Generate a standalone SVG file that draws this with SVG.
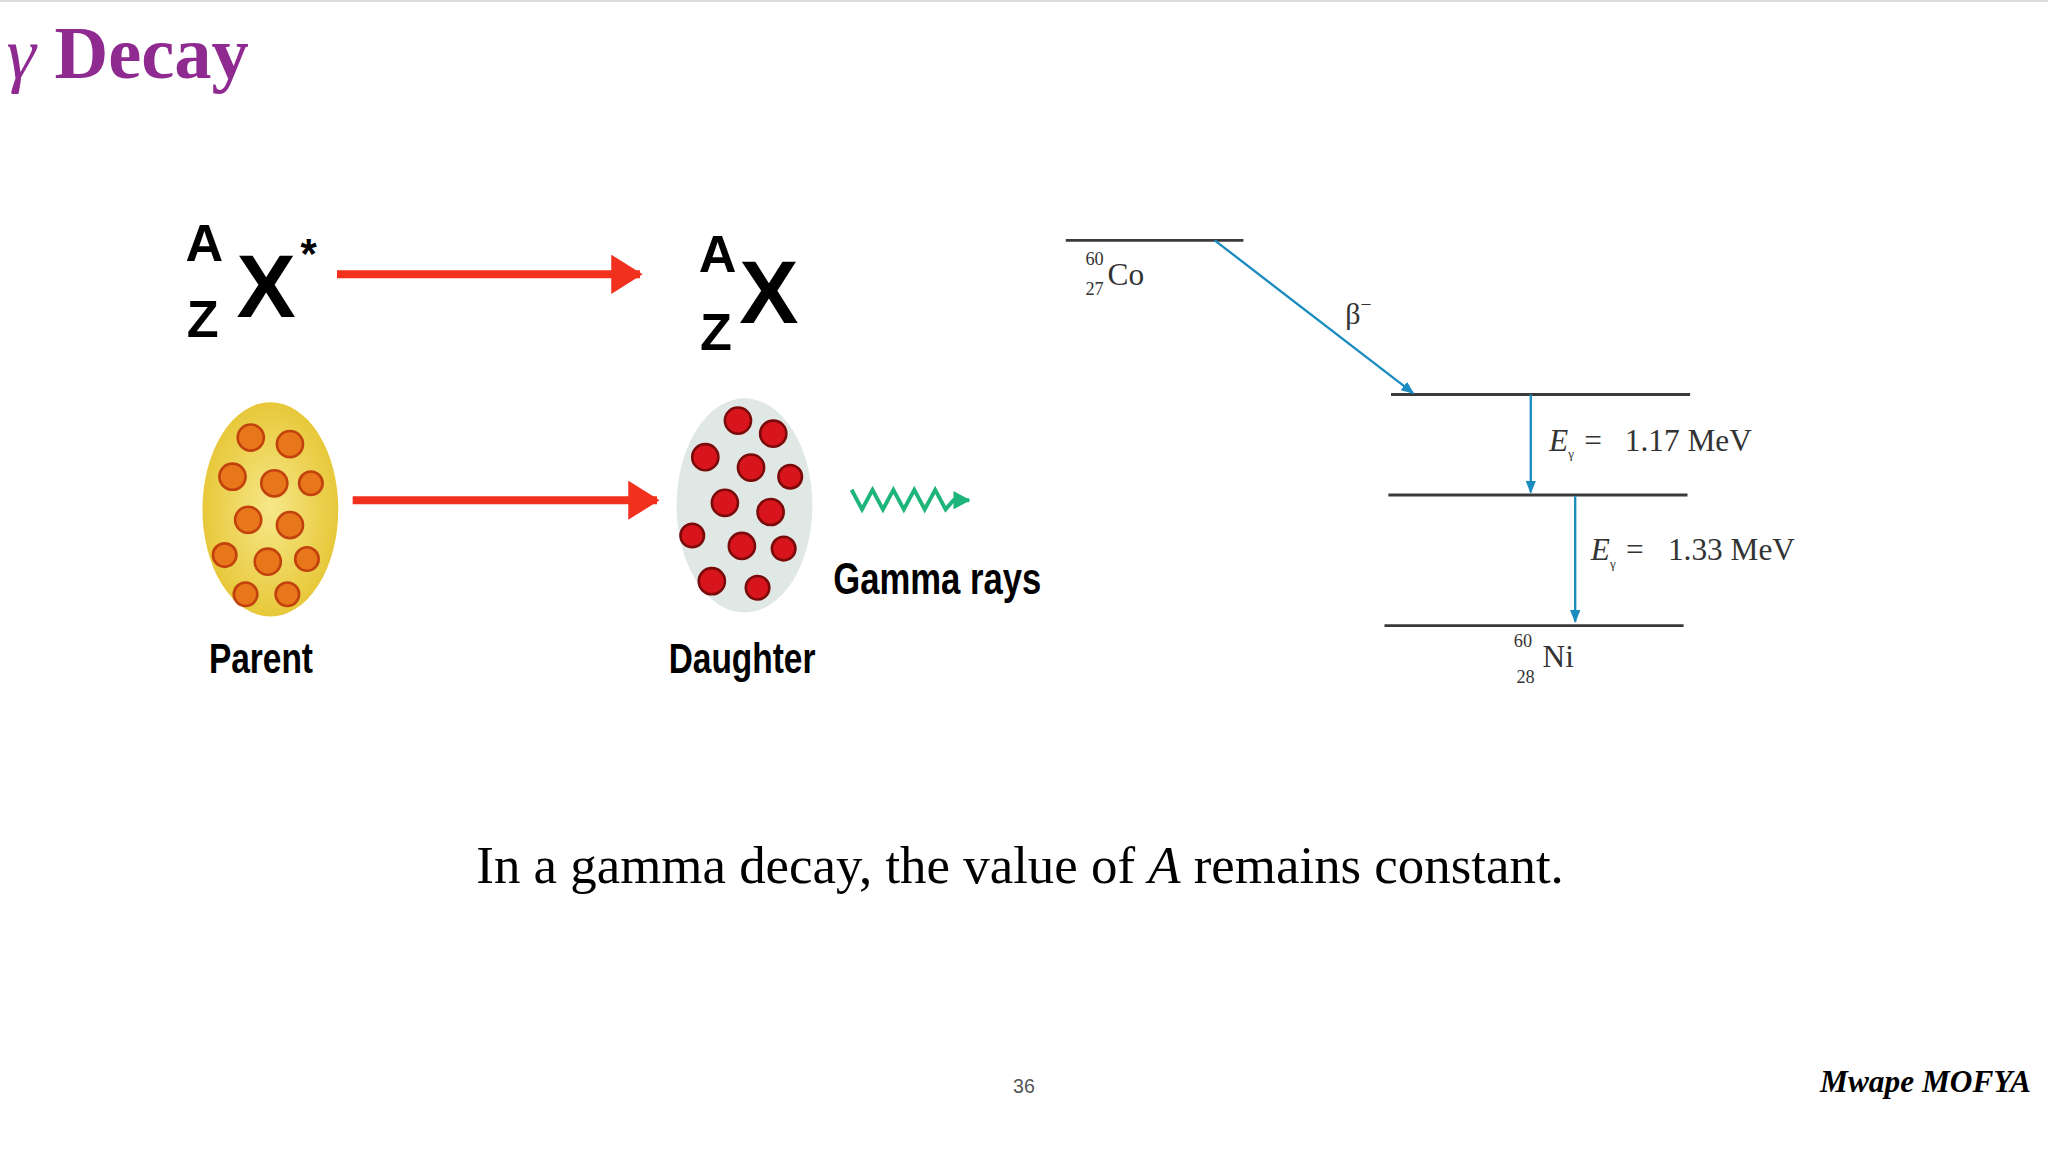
<svg xmlns="http://www.w3.org/2000/svg" width="2048" height="1152" viewBox="0 0 2048 1152">
<style>
.ser{font-family:"Liberation Serif",serif}
.sans{font-family:"Liberation Sans",sans-serif;font-weight:bold}
.lvl{stroke:#3a3a3a;stroke-width:2.2}
.blue{stroke:#1a8cc0;stroke-width:1.8;fill:none}
.red{stroke:#f2301e;stroke-width:6}
</style>
<defs>
<marker id="bh" markerWidth="10" markerHeight="8" refX="9" refY="4" orient="auto" markerUnits="userSpaceOnUse"><path d="M0,0 L10,4 L0,8z" fill="#1a8cc0"/></marker>
<marker id="rh" markerWidth="24" markerHeight="30" refX="22" refY="15" orient="auto" markerUnits="userSpaceOnUse"><path d="M0,0 L24,15 L0,30z" fill="#f2301e"/></marker>
<marker id="gh" markerWidth="14" markerHeight="14" refX="12" refY="7" orient="auto" markerUnits="userSpaceOnUse"><path d="M0,0 L13,7 L0,14z" fill="#1db57a"/></marker>
<radialGradient id="yg"><stop offset="0" stop-color="#f6e88a"/><stop offset="1" stop-color="#e8c83a"/></radialGradient>
</defs>
<rect width="2048" height="1152" fill="#fff"/>
<line x1="0" y1="1" x2="2048" y2="1" stroke="#ddd" stroke-width="2"/>
<g transform="scale(1.30612)">
<g id="title"><text x="5" y="60" class="ser" font-size="57" font-weight="bold" fill="#8e2a90"><tspan font-style="italic" font-weight="normal">γ</tspan> Decay</text></g>
<g id="parentSym" class="sans">
<text x="142" y="200" font-size="40">A</text>
<text x="143" y="258" font-size="40">Z</text>
<text x="181" y="243" font-size="68">X</text>
<text x="230" y="205" font-size="32">*</text>
</g>
<g id="daughterSym" class="sans">
<text x="535" y="208" font-size="40">A</text>
<text x="536" y="268" font-size="40">Z</text>
<text x="566" y="247" font-size="68">X</text>
</g>
<g id="parent">
<ellipse cx="207" cy="390" rx="52" ry="82" fill="url(#yg)"/>
<g fill="#e8761a" stroke="#c2420e" stroke-width="2">
<circle cx="192" cy="335" r="10"/><circle cx="222" cy="340" r="10"/><circle cx="178" cy="365" r="10"/><circle cx="210" cy="370" r="10"/><circle cx="238" cy="370" r="9"/>
<circle cx="190" cy="398" r="10"/><circle cx="222" cy="402" r="10"/><circle cx="172" cy="425" r="9"/><circle cx="205" cy="430" r="10"/><circle cx="235" cy="428" r="9"/><circle cx="188" cy="455" r="9"/><circle cx="220" cy="455" r="9"/>
</g>
<text x="160" y="515" class="sans" font-size="32" transform="translate(160 0) scale(0.8 1) translate(-160 0)">Parent</text>
</g>
<g id="daughter">
<ellipse cx="570" cy="387" rx="52" ry="82" fill="#dfe8e4"/>
<g fill="#d8141c" stroke="#7a0a0a" stroke-width="2">
<circle cx="565" cy="322" r="10"/><circle cx="592" cy="332" r="10"/><circle cx="540" cy="350" r="10"/><circle cx="575" cy="358" r="10"/><circle cx="605" cy="365" r="9"/>
<circle cx="555" cy="385" r="10"/><circle cx="590" cy="392" r="10"/><circle cx="530" cy="410" r="9"/><circle cx="568" cy="418" r="10"/><circle cx="600" cy="420" r="9"/><circle cx="545" cy="445" r="10"/><circle cx="580" cy="450" r="9"/>
</g>
<text x="512" y="515" class="sans" font-size="32" transform="translate(512 0) scale(0.8 1) translate(-512 0)">Daughter</text>
</g>
<g id="gamma">
<path d="M652,375 l8,15 l8,-15 l8,15 l8,-15 l8,15 l8,-15 l8,15 l8,-15 l8,15 l6,-7 l12,0" stroke="#1db57a" stroke-width="3" fill="none" marker-end="url(#gh)"/>
<text x="638" y="455" class="sans" font-size="34" transform="translate(638 0) scale(0.78 1) translate(-638 0)">Gamma rays</text>
</g>
<g id="levels">
<line class="lvl" x1="816" y1="184" x2="952" y2="184"/>
<line class="lvl" x1="1065" y1="302" x2="1294" y2="302"/>
<line class="lvl" x1="1063" y1="379" x2="1292" y2="379"/>
<line class="lvl" x1="1060" y1="479" x2="1289" y2="479"/>
<g class="ser" fill="#333">
<text x="831" y="203" font-size="14">60</text><text x="831" y="226" font-size="14">27</text><text x="848" y="218" font-size="24">Co</text>
<text x="1159" y="495" font-size="14">60</text><text x="1161" y="523" font-size="14">28</text><text x="1181" y="511" font-size="24">Ni</text>
<text x="1030" y="248" font-size="23">β<tspan dy="-10" font-size="15">−</tspan></text>
<text x="1186" y="345" font-size="24"><tspan font-style="italic">E</tspan><tspan font-size="10" dy="6">γ</tspan><tspan dy="-6" x="1213">=</tspan><tspan x="1244">1.17 MeV</tspan></text>
<text x="1218" y="429" font-size="24"><tspan font-style="italic">E</tspan><tspan font-size="10" dy="6">γ</tspan><tspan dy="-6" x="1245">=</tspan><tspan x="1277">1.33 MeV</tspan></text>
</g>
</g>
<g id="connectors">
<line class="red" x1="258" y1="210" x2="490" y2="210" marker-end="url(#rh)"/>
<line class="red" x1="270" y1="383" x2="503" y2="383" marker-end="url(#rh)"/>
<line class="blue" x1="930" y1="184" x2="1082" y2="301" marker-end="url(#bh)"/>
<line class="blue" x1="1172" y1="302" x2="1172" y2="377" marker-end="url(#bh)"/>
<line class="blue" x1="1206" y1="380" x2="1206" y2="476" marker-end="url(#bh)"/>
</g>
<g id="footer">
<text x="781" y="676" text-anchor="middle" class="ser" font-size="40.5">In a gamma decay, the value of <tspan font-style="italic">A</tspan> remains constant.</text>
<text x="784" y="837" text-anchor="middle" font-family="Liberation Sans,sans-serif" font-size="15" fill="#555">36</text>
<text x="1555" y="836" text-anchor="end" class="ser" font-size="24" font-weight="bold" font-style="italic">Mwape MOFYA</text>
</g>
</g>
</svg>
